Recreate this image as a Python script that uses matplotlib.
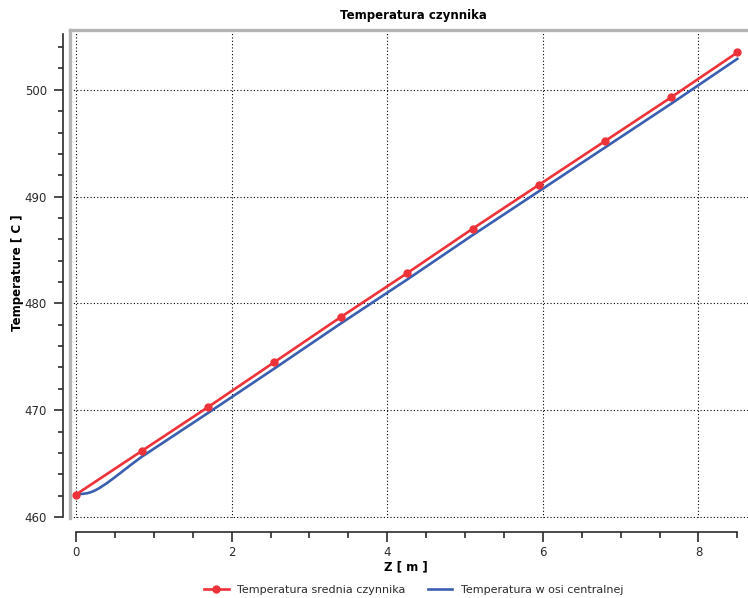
"""Temperatura czynnika: mean coolant temperature vs. centreline temperature along Z."""
import matplotlib

matplotlib.use("Agg")
import matplotlib.pyplot as plt  # noqa: E402
from matplotlib.ticker import MultipleLocator  # noqa: E402

# mean coolant temperature, read at the marker positions
z_mean = [0.0, 0.85, 1.7, 2.55, 3.4, 4.25, 5.1, 5.95, 6.8, 7.65, 8.5]
t_mean = [462.1, 466.2, 470.3, 474.5, 478.7, 482.8, 487.0, 491.1, 495.2, 499.3, 503.5]

# centreline temperature (flat start, then parallel just below the mean)
z_axis = [0.0, 0.05, 0.1, 0.15, 0.2, 0.25, 0.3, 0.4, 0.5, 0.6, 0.7, 0.85,
          1.7, 2.55, 3.4, 4.25, 5.1, 5.95, 6.8, 7.65, 8.5]
t_axis = [462.1, 462.14, 462.17, 462.23, 462.34, 462.5, 462.7, 463.18, 463.72,
          464.28, 464.85, 465.66, 469.75, 473.9, 478.1, 482.2, 486.4, 490.5,
          494.6, 498.7, 502.9]

label_mean = "Temperatura srednia czynnika"
label_axis = "Temperatura w osi centralnej"

RED = "#ee3239"
BLUE = "#3a5fb0"
INK = "#2b2b2b"
BORDER = "#b4b4b4"

plt.rcParams["font.family"] = ["DejaVu Sans"]

fig = plt.figure(figsize=(7.48, 5.98), dpi=100)
ax = fig.add_axes([70 / 748, 1 - 518 / 598, 1 - 70 / 748, (518 - 30) / 598])

ax.plot(z_mean, t_mean, color=RED, lw=1.9, marker="o", ms=5, zorder=4,
        label=label_mean)
ax.plot(z_axis, t_axis, color=BLUE, lw=1.9, zorder=3, label=label_axis)

ax.set_xlim(-0.077, 8.637)
ax.set_ylim(459.9, 505.6)

ax.grid(True, which="major", color="black", ls=(0, (1, 2)), lw=0.8)

# detached axes, the plot frame itself is only a grey top/left border
for side in ("top", "right"):
    ax.spines[side].set_visible(False)
ax.spines["left"].set_position(("outward", 5))
ax.spines["left"].set_bounds(460, 505.2)
ax.spines["bottom"].set_position(("outward", 10))
ax.spines["bottom"].set_bounds(0, 8.5)
for side in ("left", "bottom"):
    ax.spines[side].set_color(INK)
    ax.spines[side].set_linewidth(1.2)
ax.plot([0, 0], [0, 1], transform=ax.transAxes, color=BORDER, lw=2.4,
        clip_on=False, zorder=5)
ax.plot([0, 1], [1, 1], transform=ax.transAxes, color=BORDER, lw=2.4,
        clip_on=False, zorder=5)

ax.xaxis.set_major_locator(MultipleLocator(2))
ax.xaxis.set_minor_locator(MultipleLocator(0.5))
ax.yaxis.set_major_locator(MultipleLocator(10))
ax.yaxis.set_minor_locator(MultipleLocator(2))
ax.tick_params(which="both", direction="out", color=INK, width=1.2,
               labelcolor=INK, labelsize=8.5)
ax.tick_params(axis="y", which="major", length=6.5, pad=5)
ax.tick_params(axis="y", which="minor", length=3.5)
ax.tick_params(axis="x", which="major", length=7, pad=3)
ax.tick_params(axis="x", which="minor", length=4)

fig.text(0.553, 1 - 15 / 598, "Temperatura czynnika", ha="center", va="center",
         fontsize=8.5, fontweight="bold", color="black")
fig.text(18 / 748, 1 - 273 / 598, "Temperature [ C ]", ha="center", va="center",
         rotation=90, fontsize=8.5, fontweight="bold", color="black")
fig.text(406 / 748, 1 - 567 / 598, "Z [ m ]", ha="center", va="center",
         fontsize=8.5, fontweight="bold", color="black")

handles, labels = ax.get_legend_handles_labels()
fig.legend(handles, labels, loc="center", bbox_to_anchor=(414 / 748, 1 - 590 / 598),
           ncol=2, frameon=False, fontsize=8, handlelength=2.2,
           columnspacing=2.0, labelcolor=INK)

fig.savefig("out.png", dpi=100)
